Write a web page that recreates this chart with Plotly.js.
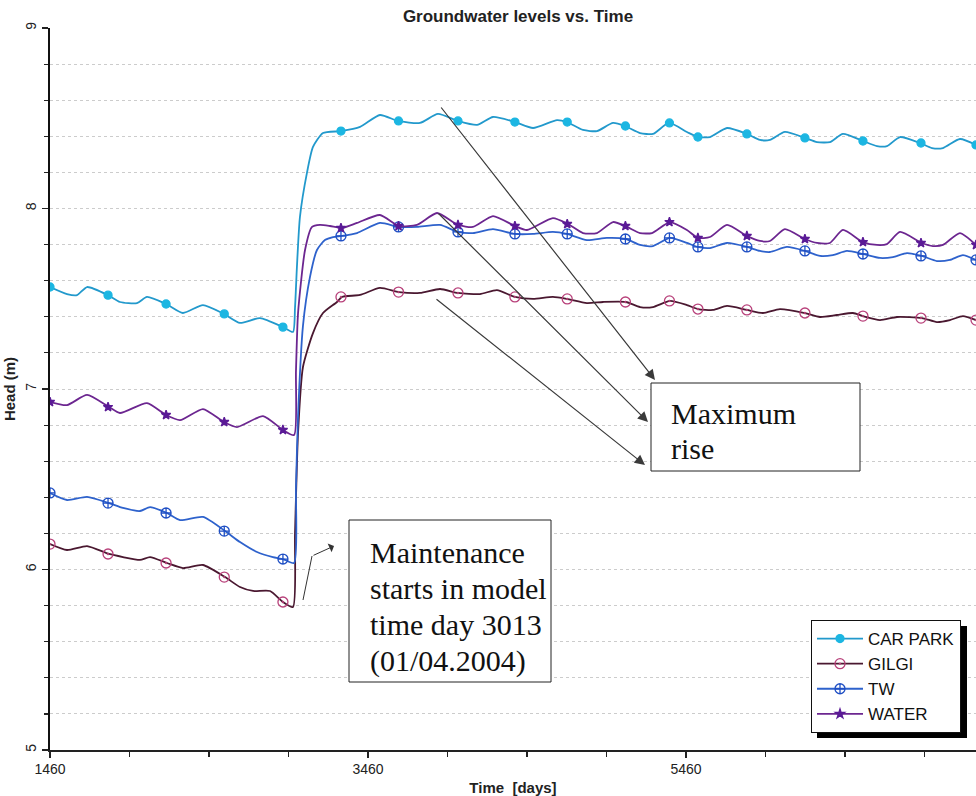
<!DOCTYPE html>
<html><head><meta charset="utf-8">
<script src="https://cdn.plot.ly/plotly-3.0.1.min.js"></script>
<style>html,body{margin:0;padding:0;background:#fff}#chart{width:976px;height:796px}</style>
</head><body><div id="chart"></div>
<script>
// ---- DATA ----
const seriesNames = ['CAR PARK', 'GILGI', 'TW', 'WATER'];

const carParkDays = [1460,1567,1630,1693,1825,1900,2007,2070,2190,2296,2422,2554,2655,2781,2925,2988,3001,3013,3032,3076,3114,3177,3290,3410,3535,3649,3787,3900,4026,4146,4246,4384,4498,4649,4711,4812,4900,5001,5076,5171,5252,5353,5466,5535,5611,5718,5843,5925,5988,6082,6208,6284,6365,6447,6573,6661,6724,6806,6931,7007,7076,7183,7284];
const carParkHead = [7.565,7.526,7.52,7.565,7.52,7.482,7.476,7.51,7.471,7.421,7.465,7.416,7.366,7.393,7.343,7.316,7.45,7.676,7.953,8.197,8.341,8.418,8.429,8.452,8.518,8.485,8.474,8.524,8.485,8.463,8.507,8.479,8.446,8.490,8.479,8.435,8.429,8.474,8.457,8.418,8.413,8.474,8.424,8.396,8.396,8.446,8.413,8.380,8.380,8.424,8.391,8.368,8.368,8.413,8.374,8.346,8.346,8.396,8.363,8.335,8.335,8.385,8.352];

const gilgiDays = [1460,1567,1693,1831,1919,2026,2089,2196,2296,2422,2561,2655,2737,2844,2925,2988,3001,3020,3051,3114,3177,3265,3296,3410,3535,3655,3787,3913,4026,4164,4271,4384,4498,4623,4711,4837,4938,5082,5171,5252,5359,5466,5535,5630,5718,5843,5944,6051,6208,6303,6409,6510,6573,6680,6787,6944,7038,7120,7202,7284];
const gilgiHead = [6.141,6.108,6.130,6.086,6.069,6.053,6.069,6.036,6.008,6.025,5.958,5.903,5.881,5.881,5.820,5.792,6.2,6.756,7.122,7.310,7.421,7.482,7.510,7.521,7.560,7.537,7.532,7.554,7.532,7.526,7.548,7.510,7.499,7.510,7.499,7.476,7.482,7.482,7.454,7.454,7.488,7.465,7.443,7.438,7.460,7.438,7.421,7.443,7.421,7.399,7.410,7.421,7.404,7.382,7.399,7.393,7.371,7.382,7.404,7.382];

const twDays = [1460,1567,1693,1831,1919,2026,2089,2196,2278,2422,2561,2655,2762,2862,2925,2995,3007,3020,3051,3095,3139,3189,3240,3296,3391,3535,3655,3768,3913,4026,4120,4246,4384,4498,4623,4711,4837,4963,5082,5171,5252,5359,5466,5535,5611,5718,5843,5925,5988,6095,6208,6303,6384,6472,6573,6680,6762,6850,6944,7038,7120,7202,7284];
const twHead = [6.424,6.385,6.402,6.368,6.341,6.324,6.346,6.313,6.274,6.291,6.213,6.152,6.097,6.069,6.058,6.036,6.45,6.85,7.35,7.620,7.770,7.825,7.842,7.848,7.864,7.920,7.898,7.898,7.909,7.870,7.864,7.886,7.859,7.859,7.870,7.859,7.825,7.837,7.831,7.798,7.792,7.837,7.809,7.787,7.781,7.809,7.787,7.765,7.759,7.787,7.765,7.737,7.742,7.765,7.748,7.726,7.731,7.753,7.737,7.709,7.715,7.742,7.715];

const waterDays = [1460,1567,1693,1831,1900,2070,2190,2278,2422,2554,2636,2800,2925,2995,3007,3020,3064,3108,3158,3221,3296,3391,3535,3655,3768,3894,4026,4120,4246,4384,4460,4623,4718,4812,4900,5001,5089,5171,5246,5359,5466,5535,5611,5718,5843,5925,5988,6082,6208,6284,6365,6447,6573,6661,6724,6806,6944,7013,7076,7183,7284];
const waterHead = [6.928,6.911,6.967,6.900,6.867,6.922,6.856,6.828,6.889,6.817,6.789,6.850,6.773,6.745,7.1,7.42,7.770,7.898,7.909,7.903,7.892,7.920,7.964,7.903,7.909,7.975,7.909,7.898,7.958,7.903,7.881,7.947,7.914,7.864,7.864,7.925,7.898,7.864,7.864,7.925,7.881,7.837,7.842,7.909,7.848,7.820,7.820,7.886,7.831,7.809,7.809,7.881,7.814,7.798,7.803,7.870,7.809,7.792,7.798,7.864,7.798];

const markerDays = [1460,1825,2190,2556,2925,3290,3652,4026,4384,4713,5079,5356,5535,5843,6208,6573,6938,7284];
const carParkMarkerHead = [7.565,7.52,7.471,7.416,7.343,8.429,8.485,8.485,8.479,8.479,8.457,8.474,8.396,8.413,8.391,8.374,8.363,8.352];
const gilgiMarkerHead = [6.141,6.086,6.036,5.958,5.820,7.510,7.537,7.532,7.510,7.499,7.482,7.488,7.443,7.438,7.421,7.404,7.393,7.382];
const twMarkerHead = [6.424,6.368,6.313,6.213,6.058,7.848,7.898,7.870,7.859,7.859,7.831,7.837,7.787,7.787,7.765,7.748,7.737,7.715];
const waterMarkerHead = [6.928,6.900,6.856,6.817,6.773,7.892,7.903,7.909,7.903,7.914,7.903,7.925,7.837,7.848,7.831,7.814,7.809,7.798];

const xTickVals = [1460, 3460, 5460];
const yTickVals = [5, 6, 7, 8, 9];

const maintenanceLines = ['Maintenance', 'starts in model', 'time day 3013', '(01/04.2004)'];
const maximumLines = ['Maximum', 'rise'];

// ---- STYLE ----
const styles = [
  {line: '#2299cc', mcolor: '#1cb6e2', symbol: 'circle', msize: 8, mline: '#1cb6e2'},
  {line: '#4a1830', mcolor: '#b8407a', symbol: 'circle-open-dot', msize: 10, mline: '#b8407a'},
  {line: '#2e62cc', mcolor: '#1f4fc4', symbol: 'circle-cross-open', msize: 10, mline: '#1f4fc4'},
  {line: '#6c2690', mcolor: '#5a1a96', symbol: 'star', msize: 7, mline: '#5a1a96'}
];
const lineData = [[carParkDays, carParkHead],[gilgiDays, gilgiHead],[twDays, twHead],[waterDays, waterHead]];
const markerData = [carParkMarkerHead, gilgiMarkerHead, twMarkerHead, waterMarkerHead];

const traces = [];
const drawOrder = [1, 2, 3, 0];
drawOrder.forEach(i => {
  const s = styles[i];
  traces.push({x: lineData[i][0], y: lineData[i][1], type: 'scatter', mode: 'lines',
    line: {color: s.line, width: 1.8, shape: 'spline', smoothing: 0.6}, showlegend: false, hoverinfo: 'skip'});
  traces.push({x: markerDays, y: markerData[i], type: 'scatter', mode: 'markers',
    marker: {color: s.mcolor, symbol: s.symbol, size: s.msize, line: {color: s.mline, width: 1.3}},
    showlegend: false, hoverinfo: 'skip'});
});
seriesNames.forEach((name, i) => {
  const s = styles[i];
  traces.push({x: [null], y: [null], type: 'scatter', mode: 'lines+markers', name: name,
    line: {color: s.line, width: 1.8},
    marker: {color: s.mcolor, symbol: s.symbol, size: s.msize, line: {color: s.mline, width: 1.3}}});
});

// pixel helpers for paper coordinates (plot area: x 50..976, y 28..750)
const px = v => (v - 50) / 926;
const py = v => (750 - v) / 722;

const serif = 'Liberation Serif, Times New Roman, serif';
const textFont = {family: serif, size: 30, color: '#111'};
const annotations = [];
maintenanceLines.forEach((t, k) => annotations.push({xref: 'paper', yref: 'paper', x: px(368), y: py(552 + k * 36.3),
  xanchor: 'left', yanchor: 'middle', align: 'left', showarrow: false, text: t, font: textFont}));
maximumLines.forEach((t, k) => annotations.push({xref: 'paper', yref: 'paper', x: px(669), y: py(413 + k * 35),
  xanchor: 'left', yanchor: 'middle', align: 'left', showarrow: false, text: t, font: textFont}));
annotations.push({xref: 'paper', yref: 'paper', x: px(334), y: py(546), text: '', showarrow: true,
   axref: 'pixel', ayref: 'pixel', ax: 312 - 334, ay: 556 - 546, arrowhead: 1, arrowsize: 1.6, arrowwidth: 1, arrowcolor: '#333'});
const arrowHeads = [[655,380,440,106],[648,422,437,212],[645,465,435,298]];
arrowHeads.forEach(a => annotations.push({xref: 'paper', yref: 'paper', x: px(a[0]), y: py(a[1]), text: '',
  showarrow: true, ax: a[2] - a[0], ay: a[3] - a[1], arrowhead: 2, arrowsize: 1.7, arrowwidth: 1.2, arrowcolor: '#3a3a3a'}));

const shapes = [
  {type: 'rect', xref: 'paper', yref: 'paper', x0: px(349), x1: px(551), y0: py(520), y1: py(682),
   line: {color: '#222', width: 1}, fillcolor: 'rgba(255,255,255,1)', layer: 'above'},
  {type: 'rect', xref: 'paper', yref: 'paper', x0: px(651), x1: px(860), y0: py(383), y1: py(471),
   line: {color: '#222', width: 1}, fillcolor: 'rgba(255,255,255,1)', layer: 'above'},
  {type: 'line', xref: 'paper', yref: 'paper', x0: px(303), y0: py(600), x1: px(312), y1: py(556),
   line: {color: '#333', width: 1}},
  {type: 'rect', xref: 'paper', yref: 'paper', x0: px(817), x1: px(967), y0: py(626), y1: py(738),
   line: {width: 0}, fillcolor: '#000', layer: 'above'}
];

const sans = 'Liberation Sans, Arial, sans-serif';
const axisFont = {family: sans, size: 14, color: '#222'};
const layout = {
  width: 976, height: 796,
  margin: {l: 50, r: 0, t: 28, b: 46, pad: 0},
  paper_bgcolor: '#fff', plot_bgcolor: '#fff',
  font: axisFont,
  title: {text: '<b>Groundwater levels vs. Time</b>', font: {family: sans, size: 17, color: '#222'},
          xref: 'container', x: 518 / 976, xanchor: 'center', yref: 'container', y: 1 - 16 / 796, yanchor: 'middle'},
  xaxis: {range: [1460, 7284], tickvals: xTickVals, ticktext: xTickVals.map(String), ticks: 'outside', ticklen: 6,
    tickcolor: '#222', tickwidth: 1.2, showgrid: false, zeroline: false, showline: true, linecolor: '#222', linewidth: 1.6,
    minor: {tick0: 1460, dtick: 500, ticks: 'outside', ticklen: 5, tickcolor: '#222', showgrid: false},
    tickfont: axisFont,
    title: {text: '<b>Time  [days]</b>', font: {family: sans, size: 15, color: '#222'}, standoff: 6}},
  yaxis: {range: [5, 9], tickvals: yTickVals, ticktext: yTickVals.map(String), tickangle: -90, ticks: 'outside', ticklen: 6,
    tickcolor: '#222', tickwidth: 1.2, showgrid: true, gridcolor: '#cccccc', griddash: 'dot', gridwidth: 1, zeroline: false,
    showline: true, linecolor: '#111', linewidth: 2,
    minor: {tick0: 5, dtick: 0.2, ticks: 'outside', ticklen: 4, tickcolor: '#222', showgrid: true, gridcolor: '#cccccc', griddash: 'dot', gridwidth: 1},
    tickfont: axisFont,
    title: {text: '<b>Head (m)</b>', font: {family: sans, size: 15, color: '#222'}, standoff: 4}},
  legend: {x: px(811), y: py(620), xanchor: 'left', yanchor: 'top', bgcolor: '#fff', bordercolor: '#111', borderwidth: 1,
    font: {family: sans, size: 17, color: '#111'}, traceorder: 'normal', itemwidth: 46},
  annotations: annotations,
  shapes: shapes
};

Plotly.newPlot('chart', traces, layout, {displayModeBar: false, staticPlot: true});
</script>
</body></html>
